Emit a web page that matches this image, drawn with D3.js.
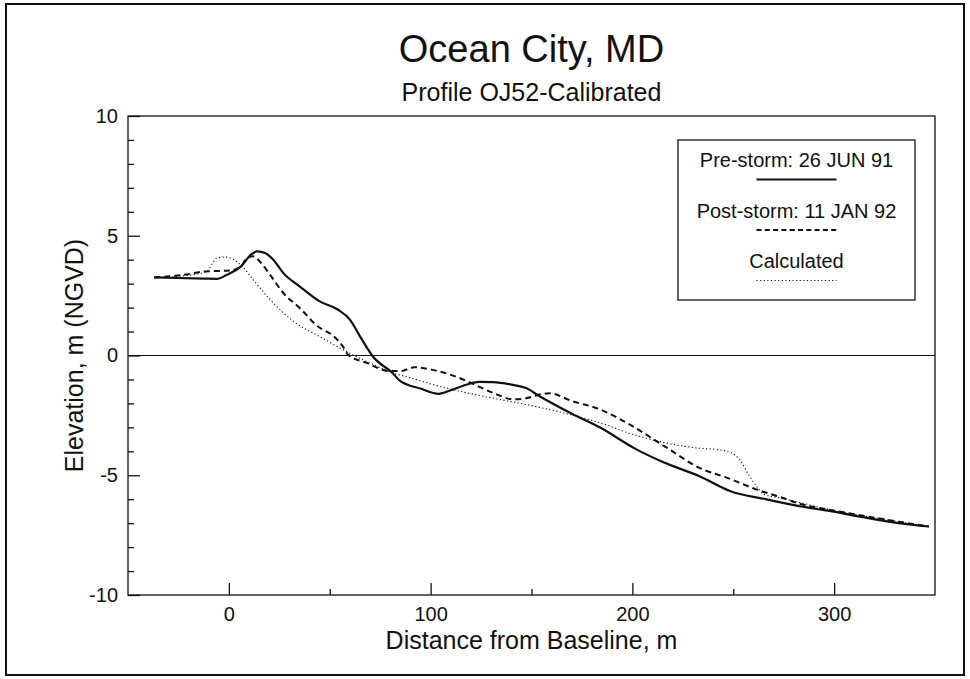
<!DOCTYPE html>
<html>
<head>
<meta charset="utf-8">
<script src="https://cdn.jsdelivr.net/npm/d3@7"></script>
<style>
  html, body { margin: 0; padding: 0; background: #fff; }
  svg text { font-family: "Liberation Sans", Arial, Helvetica, sans-serif; fill: #111; }
</style>
</head>
<body>
<svg id="chart" width="970" height="679"></svg>
<script>
// ---- data ----
const titleText = "Ocean City, MD";
const subtitleText = "Profile OJ52-Calibrated";
const xLabel = "Distance from Baseline, m";
const yLabel = "Elevation, m (NGVD)";

const xMajorTicks = [0, 100, 200, 300];
const xMinorTicks = [50, 150, 250];
const yMajorTicks = [-10, -5, 0, 5, 10];
const yMinorTicks = [-9, -8, -7, -6, -4, -3, -2, -1, 1, 2, 3, 4, 6, 7, 8, 9];

const legendLabels = ["Pre-storm: 26 JUN 91", "Post-storm: 11 JAN 92", "Calculated"];

const preX = [-37,-12,-6,-1,6,11,14,18,22,27,35,45,54,60,65,69,71,81,85,95,104,110,118,124,131,142,147,154,170,184,202,216,233,249,266,282,299,315,332,347];
const preY = [3.26,3.21,3.2,3.37,3.72,4.21,4.35,4.28,4.0,3.44,2.89,2.26,1.92,1.5,0.8,0.25,0,-0.72,-1.07,-1.38,-1.6,-1.45,-1.21,-1.1,-1.11,-1.25,-1.35,-1.7,-2.43,-3.01,-3.92,-4.48,-5.03,-5.68,-6.0,-6.28,-6.51,-6.76,-7.0,-7.14];

const postX = [-37,-22,-12,1,6,9,12,16,21,27,35,44,52,57,59,68,80,85,92,101,114,118,131,141,147,154,159,170,184,200,217,233,249,261,274,282,299,315,332,347];
const postY = [3.26,3.37,3.51,3.55,3.72,4.07,4.14,3.86,3.3,2.61,1.99,1.22,0.8,0.32,0.04,-0.3,-0.65,-0.65,-0.49,-0.6,-0.93,-1.07,-1.56,-1.83,-1.79,-1.63,-1.58,-1.9,-2.25,-2.95,-3.85,-4.68,-5.17,-5.58,-5.93,-6.17,-6.46,-6.7,-6.94,-7.14];

const calcX = [-37,-22,-11,-8,-6,-2,2.5,6.6,12,19,27,35,44,54,68,81,90,101,118,134,151,167,184,200,216,233,241,249,253,258,262,265,272,282,299,315,332,347];
const calcY = [3.26,3.33,3.51,3.86,4.07,4.11,4.0,3.72,3.17,2.47,1.78,1.25,0.84,0.36,-0.24,-0.72,-0.93,-1.21,-1.56,-1.83,-2.11,-2.42,-2.81,-3.29,-3.64,-3.87,-3.92,-4.06,-4.33,-5.03,-5.51,-5.79,-5.93,-6.12,-6.46,-6.7,-6.94,-7.14];

// ---- layout ----
const svg = d3.select("#chart");
const L = 128, R = 935, T = 116, B = 595;
const fontFam = '"Liberation Sans", Arial, Helvetica, sans-serif';

const x = d3.scaleLinear().domain([-50, 350]).range([L, R]);
const y = d3.scaleLinear().domain([-10, 10]).range([B, T]);
const fmt = d => String(d);

// outer frame
svg.append("rect").attr("x", 6).attr("y", 4).attr("width", 958).attr("height", 671)
  .attr("fill", "none").attr("stroke", "#111").attr("stroke-width", 2);

// titles
svg.append("text").attr("x", (L + R) / 2).attr("y", 62).attr("text-anchor", "middle")
  .attr("font-size", 38).text(titleText);
svg.append("text").attr("x", (L + R) / 2).attr("y", 101).attr("text-anchor", "middle")
  .attr("font-size", 25).text(subtitleText);

// plot box
svg.append("rect").attr("x", L).attr("y", T).attr("width", R - L).attr("height", B - T)
  .attr("fill", "none").attr("stroke", "#111").attr("stroke-width", 1.3);

// y axis (ticks pointing inward)
const gy = svg.append("g").attr("transform", `translate(${L},0)`);
gy.append("g").call(d3.axisLeft(y).tickValues(yMinorTicks).tickSizeInner(-6).tickSizeOuter(0).tickFormat(""));
gy.append("g").call(d3.axisLeft(y).tickValues(yMajorTicks).tickSizeInner(-12).tickSizeOuter(0).tickPadding(10).tickFormat(fmt));
gy.selectAll(".domain").remove();
gy.selectAll("line").attr("stroke", "#111").attr("stroke-width", 1.3);
gy.selectAll("text").attr("font-size", 20).attr("fill", "#111").style("font-family", fontFam);

// x axis (ticks pointing inward)
const gx = svg.append("g").attr("transform", `translate(0,${B})`);
gx.append("g").call(d3.axisBottom(x).tickValues(xMinorTicks).tickSizeInner(-6).tickSizeOuter(0).tickFormat(""));
gx.append("g").call(d3.axisBottom(x).tickValues(xMajorTicks).tickSizeInner(-12).tickSizeOuter(0).tickPadding(12).tickFormat(fmt));
gx.selectAll(".domain").remove();
gx.selectAll("line").attr("stroke", "#111").attr("stroke-width", 1.3);
gx.selectAll("text").attr("font-size", 20).attr("fill", "#111").style("font-family", fontFam);

// axis labels
svg.append("text").attr("x", (L + R) / 2).attr("y", 649).attr("text-anchor", "middle")
  .attr("font-size", 25).text(xLabel);
svg.append("text").attr("transform", `translate(83,${y(0)}) rotate(-90)`).attr("text-anchor", "middle")
  .attr("font-size", 25).text(yLabel);

// zero line
svg.append("line").attr("x1", x(-50)).attr("x2", x(350)).attr("y1", y(0)).attr("y2", y(0))
  .attr("stroke", "#111").attr("stroke-width", 1.2);

// lines
const line = d3.line().x(d => x(d[0])).y(d => y(d[1])).curve(d3.curveMonotoneX);
const series = [
  { xs: preX, ys: preY, width: 2.2, dash: null },
  { xs: postX, ys: postY, width: 2.0, dash: "6,4" },
  { xs: calcX, ys: calcY, width: 1.1, dash: "1.2,2.4" }
];
series.forEach(s => {
  const pts = s.xs.map((v, i) => [v, s.ys[i]]);
  svg.append("path").datum(pts).attr("d", line).attr("fill", "none")
    .attr("stroke", "#111").attr("stroke-width", s.width)
    .attr("stroke-dasharray", s.dash).attr("stroke-linejoin", "round");
});

// legend
const lgX = 678, lgY = 140, lgW = 237, lgH = 160;
svg.append("rect").attr("x", lgX).attr("y", lgY).attr("width", lgW).attr("height", lgH)
  .attr("fill", "#fff").attr("stroke", "#111").attr("stroke-width", 1.3);
const cx = lgX + lgW / 2;
legendLabels.forEach((lab, i) => {
  const by = 167 + i * 50.5;
  svg.append("text").attr("x", cx).attr("y", by).attr("text-anchor", "middle")
    .attr("font-size", 20).text(lab);
  const s = series[i];
  svg.append("line").attr("x1", cx - 40).attr("x2", cx + 40).attr("y1", by + 12.5).attr("y2", by + 12.5)
    .attr("stroke", "#111").attr("stroke-width", i === 2 ? 1.1 : 1.8)
    .attr("stroke-dasharray", i === 1 ? "5,3.3" : s.dash);
});
</script>
</body>
</html>
